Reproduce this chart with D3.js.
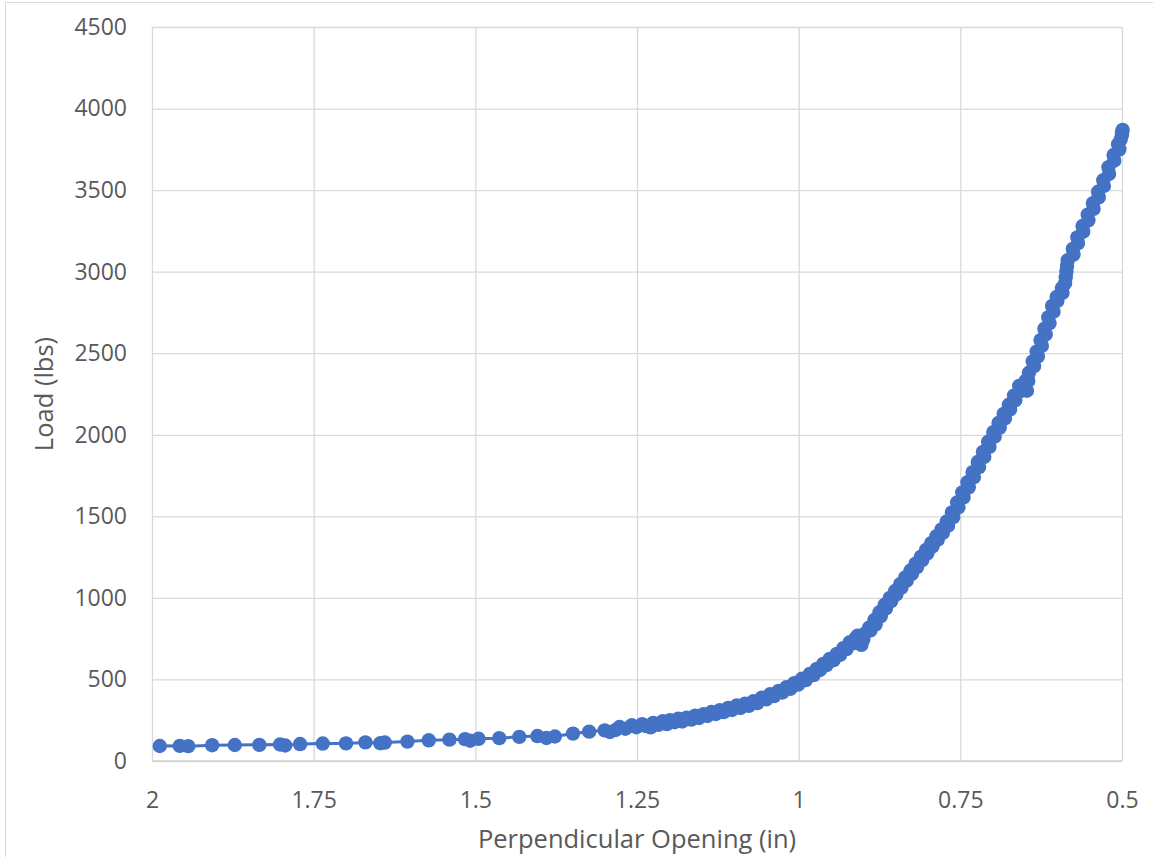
<!DOCTYPE html>
<html>
<head>
<meta charset="utf-8">
<script src="https://cdnjs.cloudflare.com/ajax/libs/d3/7.8.5/d3.min.js"></script>
<style>
    body { margin: 0; background: #fff; }
    text { font-family: "Open Sans", sans-serif; fill: #595959; }
</style>
</head>
<body>
<div id="chart"></div>
<script>
/* *******************************************************
   Data
******************************************************* */
// perpendicular opening (in), in test order
let opening = [
    1.988, 1.957, 1.944, 1.907, 1.872, 1.834, 1.802, 1.794, 1.771, 1.736,
    1.700, 1.670, 1.647, 1.640, 1.605, 1.572, 1.540, 1.516, 1.508, 1.495,
    1.463, 1.432, 1.404, 1.390, 1.377, 1.349, 1.324, 1.300, 1.292, 1.283,
    1.277, 1.268, 1.258, 1.251, 1.242, 1.236, 1.229, 1.225, 1.217, 1.210,
    1.204, 1.199, 1.192, 1.186, 1.180, 1.173, 1.166, 1.160, 1.154, 1.147,
    1.141, 1.135, 1.128, 1.122, 1.116, 1.109, 1.103, 1.096, 1.090, 1.083,
    1.077, 1.070, 1.064, 1.057, 1.050, 1.044, 1.038, 1.031, 1.025, 1.019,
    1.013, 1.007, 1.001, 0.995, 0.989, 0.983, 0.977, 0.972, 0.967, 0.962,
    0.957, 0.952, 0.946, 0.941, 0.936, 0.931, 0.926, 0.921, 0.916, 0.912,
    0.909, 0.906, 0.903, 0.900, 0.899, 0.889, 0.891, 0.881, 0.883, 0.873,
    0.875, 0.865, 0.867, 0.857, 0.859, 0.849, 0.851, 0.841, 0.843, 0.833,
    0.835, 0.825, 0.827, 0.817, 0.819, 0.809, 0.811, 0.801, 0.803, 0.793,
    0.795, 0.785, 0.787, 0.777, 0.779, 0.769, 0.771, 0.761, 0.763, 0.753,
    0.755, 0.745, 0.747, 0.737, 0.739, 0.729, 0.731, 0.721, 0.723, 0.713,
    0.715, 0.705, 0.707, 0.697, 0.699, 0.689, 0.691, 0.681, 0.683, 0.673,
    0.675, 0.665, 0.667, 0.657, 0.659, 0.649, 0.650, 0.647, 0.645, 0.644,
    0.636, 0.638, 0.630, 0.632, 0.624, 0.626, 0.618, 0.620, 0.612, 0.614,
    0.606, 0.608, 0.600, 0.601, 0.592, 0.593, 0.588, 0.587, 0.586, 0.585,
    0.584, 0.575, 0.576, 0.568, 0.569, 0.560, 0.561, 0.552, 0.553, 0.544,
    0.545, 0.536, 0.537, 0.528, 0.529, 0.520, 0.521, 0.512, 0.513, 0.504,
    0.506, 0.502, 0.500, 0.499, 0.500
];
// load (lbs)
let load = [
    92, 93, 91, 97, 98, 99, 101, 95, 104, 107,
    108, 114, 109, 113, 119, 127, 131, 134, 124, 136,
    140, 148, 153, 141, 150, 168, 180, 188, 178, 190,
    208, 198, 219, 207, 226, 214, 206, 234, 222, 244,
    226, 250, 238, 260, 242, 266, 254, 278, 264, 287,
    276, 300, 288, 312, 300, 326, 313, 340, 325, 351,
    338, 366, 355, 388, 378, 410, 398, 430, 420, 452,
    442, 477, 468, 504, 496, 533, 527, 565, 558, 595,
    588, 626, 618, 657, 651, 692, 686, 728, 721, 752,
    768, 740, 712, 745, 778, 800, 818, 838, 864, 888,
    912, 935, 958, 980, 1000, 1021, 1042, 1063, 1084, 1105,
    1126, 1147, 1168, 1189, 1210, 1231, 1252, 1273, 1294, 1315,
    1336, 1357, 1378, 1399, 1420, 1443, 1468, 1495, 1524, 1554,
    1585, 1616, 1647, 1678, 1709, 1740, 1771, 1802, 1833, 1864,
    1895, 1926, 1957, 1988, 2016, 2044, 2072, 2100, 2128, 2156,
    2184, 2212, 2240, 2268, 2300, 2330, 2290, 2270, 2330, 2380,
    2420, 2450, 2480, 2510, 2545, 2580, 2615, 2650, 2685, 2720,
    2755, 2790, 2820, 2845, 2870, 2900, 2930, 2965, 3000, 3035,
    3070, 3105, 3140, 3175, 3210, 3245, 3280, 3315, 3350, 3385,
    3420, 3455, 3490, 3525, 3560, 3600, 3640, 3680, 3715, 3750,
    3780, 3810, 3840, 3869, 3855
];

// tick values
let xTicks = [2, 1.75, 1.5, 1.25, 1, 0.75, 0.5];
let yTicks = [0, 500, 1000, 1500, 2000, 2500, 3000, 3500, 4000, 4500];

let points = opening.map((d, i) => ({ x: d, y: load[i] }));

/* *******************************************************
   Chart size and margins
******************************************************* */
let width = 1153;
let height = 857;

var margin = { top: 27, right: 31, bottom: 96, left: 152 };
var chartWidth = width - margin.left - margin.right;
var chartHeight = height - margin.top - margin.bottom;

let svg = d3.select("#chart").append("svg")
    .attr("width", width).attr("height", height);

// chart area border
svg.append("rect")
    .attr("x", 5.5).attr("y", 2.5)
    .attr("width", width + 20).attr("height", height + 20)
    .attr("fill", "#fff")
    .attr("stroke", "#d9d9d9");

let chartGroup = svg.append("g")
    .attr("transform", `translate(${margin.left}, ${margin.top})`);

// scales (opening axis runs backwards)
var xScale = d3.scaleLinear().domain([2, 0.5]).range([0, chartWidth]);
var yScale = d3.scaleLinear().domain([0, 4500]).range([chartHeight, 0]);

/* =======================================================
    Gridlines + axes
======================================================= */
var xAxis = d3.axisBottom(xScale)
    .tickValues(xTicks)
    .tickSize(-chartHeight)
    .tickPadding(31)
    .tickFormat(d3.format("~g"));

var yAxis = d3.axisLeft(yScale)
    .tickValues(yTicks)
    .tickSize(-chartWidth)
    .tickPadding(25)
    .tickFormat(d3.format("d"));

let gx = chartGroup.append("g")
    .attr("transform", `translate(0, ${chartHeight})`)
    .call(xAxis);

let gy = chartGroup.append("g")
    .call(yAxis);

[gx, gy].forEach(g => {
    g.select(".domain").remove();
    g.selectAll(".tick line").attr("stroke", "#d9d9d9").attr("stroke-width", 1.3);
    g.selectAll(".tick text")
        .attr("font-size", 23)
        .attr("fill", "#595959")
        .style("font-family", "'Open Sans', sans-serif");
});

// bottom axis line
chartGroup.append("line")
    .attr("x1", 0).attr("x2", chartWidth)
    .attr("y1", chartHeight).attr("y2", chartHeight)
    .attr("stroke", "#d0d0d0").attr("stroke-width", 1.3);

/* =======================================================
    Series: line + markers
======================================================= */
var line = d3.line()
    .x(d => xScale(d.x))
    .y(d => yScale(d.y));

chartGroup.append("path")
    .datum(points)
    .attr("d", line)
    .attr("fill", "none")
    .attr("stroke", "#4472c4")
    .attr("stroke-width", 3);

chartGroup.selectAll("circle")
    .data(points)
    .enter()
    .append("circle")
    .attr("cx", d => xScale(d.x))
    .attr("cy", d => yScale(d.y))
    .attr("r", 7.2)
    .attr("fill", "#4472c4");

/* =======================================================
    Axis titles
======================================================= */
svg.append("text")
    .attr("x", margin.left + chartWidth / 2)
    .attr("y", 848)
    .attr("text-anchor", "middle")
    .attr("font-size", 25.5)
    .text("Perpendicular Opening (in)");

svg.append("text")
    .attr("transform", `translate(53, ${margin.top + chartHeight / 2}) rotate(-90)`)
    .attr("text-anchor", "middle")
    .attr("font-size", 25.5)
    .text("Load (lbs)");
</script>
</body>
</html>
